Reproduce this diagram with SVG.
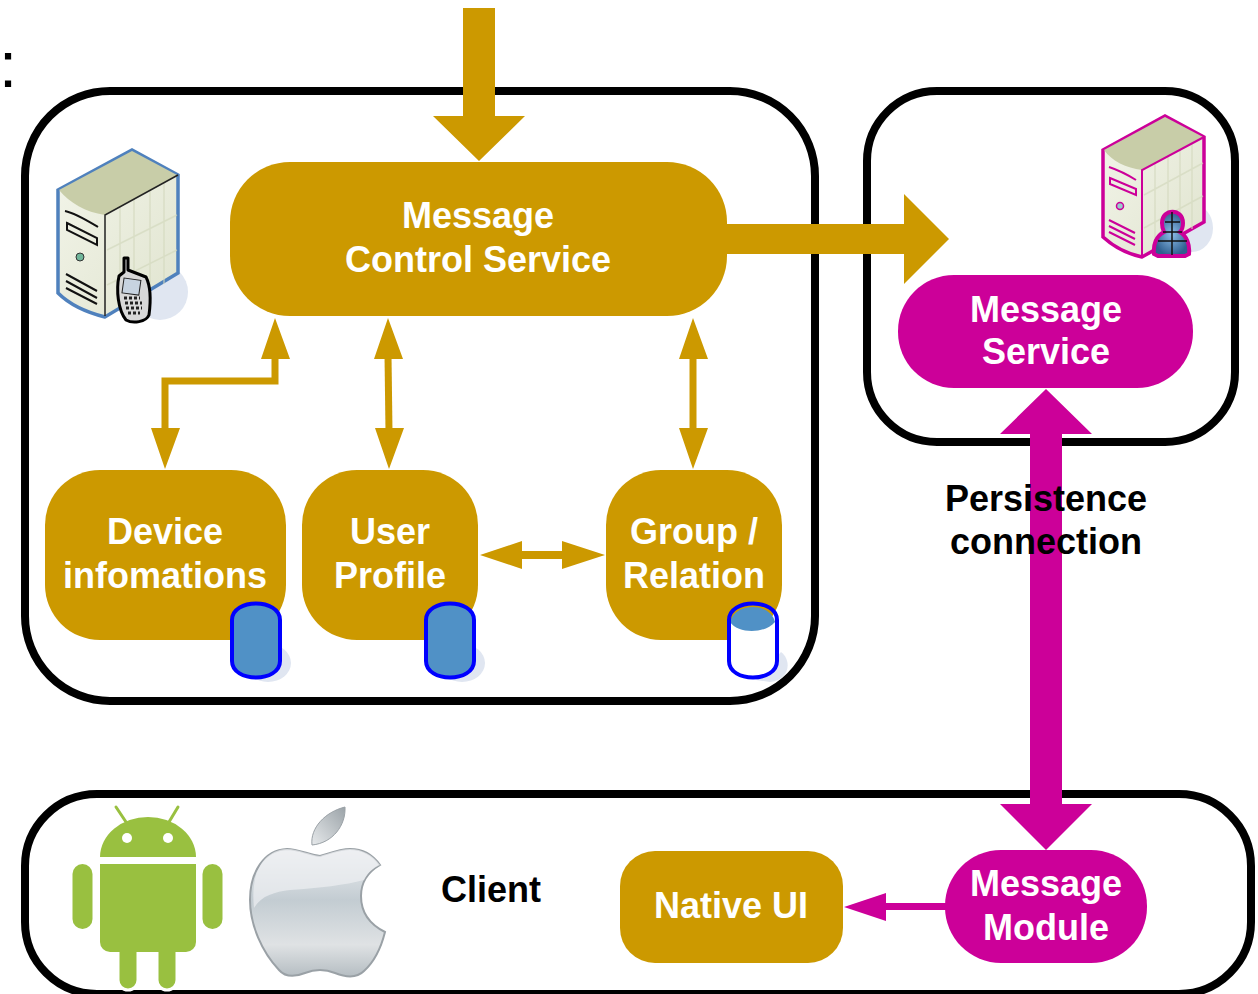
<svg xmlns="http://www.w3.org/2000/svg" width="1258" height="994" viewBox="0 0 1258 994">
<style>
text{font-family:"Liberation Sans",Arial,sans-serif;font-weight:bold;font-size:36px;text-anchor:middle}
.w{fill:#fff}.k{fill:#000}
.box{fill:#fff;stroke:#000;stroke-width:8}
.g{fill:#cc9900}.m{fill:#cc0099}
.gl{fill:none;stroke:#cc9900;stroke-width:7}
.cyl{fill:#5091c6;stroke:#0000ff;stroke-width:4}
.sh{fill:#e0e6f1}
.top{fill:#c8cda8}
.strip{fill:none;stroke:#d3d8bd;stroke-width:1.500;opacity:.7}
</style>
<defs>
<linearGradient id="side" x1="0" y1="0" x2="1" y2="1"><stop offset="0" stop-color="#f3f5ea"/><stop offset="1" stop-color="#e0e4cf"/></linearGradient>
<linearGradient id="app" x1="0" y1="0" x2="0" y2="1"><stop offset="0" stop-color="#eef0f2"/><stop offset=".4" stop-color="#c3ccd2"/><stop offset=".75" stop-color="#dfe2e4"/><stop offset="1" stop-color="#b5bdc2"/></linearGradient>
<linearGradient id="leaf" x1="0" y1="1" x2="1" y2="0"><stop offset="0" stop-color="#e6e9eb"/><stop offset="1" stop-color="#9ba3a8"/></linearGradient>
<radialGradient id="bl"><stop offset="0" stop-color="#8fc0ea"/><stop offset="1" stop-color="#2f5f8f"/></radialGradient>
</defs>
<text x="8" y="87" class="k" style="font-size:65px;font-weight:normal">:</text>
<g id="container-server"><rect class="box" x="25" y="91" width="790" height="610" rx="85"/></g>
<g id="container-message"><rect class="box" x="867" y="91" width="368" height="351" rx="70"/></g>
<g id="container-client"><rect class="box" x="25" y="794" width="1226" height="200" rx="72"/></g>

<g id="server-phone">
<ellipse class="sh" cx="160" cy="292" rx="28" ry="28"/>
<path d="M58 190L132 150L178 175V273L105 317C85 312 70 305 58 293Z" fill="url(#side)" stroke="#4f81bd" stroke-width="3.500"/>
<path d="M59 190L132 151L177 175L105 215C85 212 70 203 59 190Z" class="top"/>
<path class="strip" d="M120 207V310M134 199V302M150 190V292M164 183V284M107 250L177 215M107 285L177 250"/>
<path d="M178 175L105 215V316" fill="none" stroke="#222" stroke-width="1.500"/>
<path d="M65 211C75 213 88 221 98 227M67 223L97 238V245L67 230ZM66 274L97 291M66 281L97 298M66 288L97 304" fill="none" stroke="#111" stroke-width="2"/>
<circle cx="80" cy="257" r="4" fill="#6fb59a" stroke="#333"/>
<path d="M124 258V272L119 276C116 290 118 310 126 320C133 324 146 322 149 315C151 300 150 285 146 277L128 270V258Z" fill="#d8d8d8" stroke="#000" stroke-width="3" stroke-linejoin="round"/>
<rect x="123" y="279" width="17" height="15" fill="#c7d3e0" stroke="#222" transform="rotate(8 131 286)"/>
<path d="M124 298h16M125 303h17M126 308h16M128 313h12" stroke="#222" stroke-width="3" stroke-dasharray="3 2"/>
</g>

<g id="server-user">
<ellipse class="sh" cx="1192" cy="228" rx="21" ry="24"/>
<path d="M1103 150L1165 116L1204 137V222L1142 257C1128 254 1114 247 1103 237Z" fill="url(#side)" stroke="#cc0099" stroke-width="3.500"/>
<path d="M1104 150L1165 117L1203 137L1142 170C1126 168 1112 161 1104 150Z" class="top"/>
<path class="strip" d="M1155 163V250M1168 156V243M1180 150V236M1192 144V229M1144 195L1203 163M1144 228L1203 196"/>
<path d="M1204 137L1142 170V257" fill="none" stroke="#cc0099" stroke-width="2"/>
<path d="M1109 167C1118 170 1128 175 1136 180M1110 178L1136 189V195L1110 184ZM1109 220L1135 233M1109 226L1135 239M1109 232L1135 245" fill="none" stroke="#cc0099" stroke-width="2"/>
<circle cx="1120" cy="206" r="3.500" fill="#9cc" stroke="#cc0099" stroke-width="1.500"/>
<path d="M1162 223C1162 208 1183 208 1183 223C1183 227 1182 230 1180 232C1187 236 1190 245 1189 254L1185 256H1158L1154 254C1153 245 1156 236 1164 232C1163 230 1162 227 1162 223Z" fill="url(#bl)" stroke="#cc0099" stroke-width="4"/>
<path d="M1172 212V255M1165 222H1180M1158 241H1187M1163 232H1182" stroke="#111" stroke-width="1.500" fill="none"/>
</g>

<g id="connectors">
<path class="g" d="M463 8H495V116H525L479 161L433 116H463Z"/>
<path class="g" d="M727 224H904V194L949 239L904 284V254H727Z"/>
<path class="gl" d="M275 355V381H165V432"/>
<path class="g" d="M275 318L290 359H261ZM165 469L151 428H180Z"/>
<path class="gl" d="M388 355L389 432"/>
<path class="g" d="M388 318L403 359H374ZM389 469L375 428H404Z"/>
<path class="gl" d="M693 355V432"/>
<path class="g" d="M693 318L708 359H679ZM693 469L679 428H708Z"/>
<path class="g" d="M480 555L522 541V551H562V541L605 555L562 569V559H522V569Z"/>
<path class="m" d="M1046 389L1092 434H1062V804H1092L1046 850L1000 804H1030V434H1000Z"/>
<path class="m" d="M946 903H886V893L844 907L886 921V910H946Z"/>
</g>

<g id="message-control"><rect class="g" x="230" y="162" width="497" height="154" rx="60"/>
<text class="w" x="478" y="228">Message</text><text class="w" x="478" y="272">Control Service</text></g>

<g id="device"><rect class="g" x="45" y="470" width="241" height="170" rx="55"/>
<text class="w" x="165" y="544">Device</text><text class="w" x="165" y="588">infomations</text>
<ellipse class="sh" cx="268" cy="663" rx="23" ry="19"/>
<path class="cyl" d="M232 620C232 598 280 598 280 620V661C280 683 232 683 232 661Z"/></g>

<g id="user-profile"><rect class="g" x="302" y="470" width="176" height="170" rx="55"/>
<text class="w" x="390" y="544">User</text><text class="w" x="390" y="588">Profile</text>
<ellipse class="sh" cx="462" cy="663" rx="23" ry="19"/>
<path class="cyl" d="M426 620C426 598 474 598 474 620V661C474 683 426 683 426 661Z"/></g>

<g id="group-relation"><rect class="g" x="606" y="470" width="176" height="170" rx="55"/>
<text class="w" x="694" y="544">Group /</text><text class="w" x="694" y="588">Relation</text>
<path class="sh" d="M756 680L781 652C792 660 790 680 770 682Z"/>
<path d="M730 622V661C730 681 776 681 776 661V622Z" fill="#fff"/>
<path d="M730 622C738 634 765 634 775 622C770 602 735 602 730 622Z" fill="#5091c6"/>
<path class="cyl" style="fill:none" d="M729 620C729 598 777 598 777 620V661C777 683 729 683 729 661Z"/></g>

<g id="message-service"><rect class="m" x="898" y="275" width="295" height="113" rx="56"/>
<text class="w" x="1046" y="322">Message</text><text class="w" x="1046" y="364">Service</text></g>

<g id="native-ui"><rect class="g" x="620" y="851" width="223" height="112" rx="35"/>
<text class="w" x="731" y="918">Native UI</text></g>

<g id="message-module"><rect class="m" x="945" y="850" width="202" height="113" rx="56"/>
<text class="w" x="1046" y="896">Message</text><text class="w" x="1046" y="940">Module</text></g>

<text class="k" x="1046" y="511">Persistence</text>
<text class="k" x="1046" y="554">connection</text>
<text class="k" x="491" y="902">Client</text>

<g id="android">
<path d="M118 950H138V980A10 10 0 0 1 118 980ZM157 950H177V980A10 10 0 0 1 157 980Z" fill="#99c040" stroke="#fff" stroke-width="3"/>
<g fill="#99c040">
<path d="M100 857A48 40 0 0 1 196 857Z"/>
<path d="M100 864H196V942A10 10 0 0 1 186 952H110A10 10 0 0 1 100 942Z"/>
<rect x="72.500" y="864" width="20" height="65" rx="10"/>
<rect x="202.500" y="864" width="20" height="65" rx="10"/>
</g>
<path d="M116 807L126 822M178 807L169 822" stroke="#99c040" stroke-width="3" stroke-linecap="round"/>
<circle cx="127" cy="838" r="5" fill="#fff"/><circle cx="168" cy="838" r="5" fill="#fff"/>
</g>

<g id="apple">
<path d="M320 856C330 853 340 849 350 849C362 849 373 855 380 865C368 872 361 882 361 896C361 913 371 925 385 932C381 948 374 962 364 971C356 979 345 977 335 973C325 969 315 969 305 973C295 977 286 978 279 970C262 952 250 925 250 900C250 872 264 850 287 849C298 849 310 855 320 856Z" fill="url(#app)" stroke="#9aa1a6" stroke-width="2"/>
<path d="M254 908C262 895 275 892 290 890C320 888 345 885 364 880C368 872 373 868 380 865C373 855 362 849 350 849C340 849 330 853 320 856C310 855 298 849 287 849C264 850 250 872 254 908Z" fill="#eef0f2" opacity=".7"/>
<path d="M312 845C310 828 325 812 345 807C346 825 333 843 312 845Z" fill="url(#leaf)" stroke="#9aa1a6"/>
</g>
</svg>
